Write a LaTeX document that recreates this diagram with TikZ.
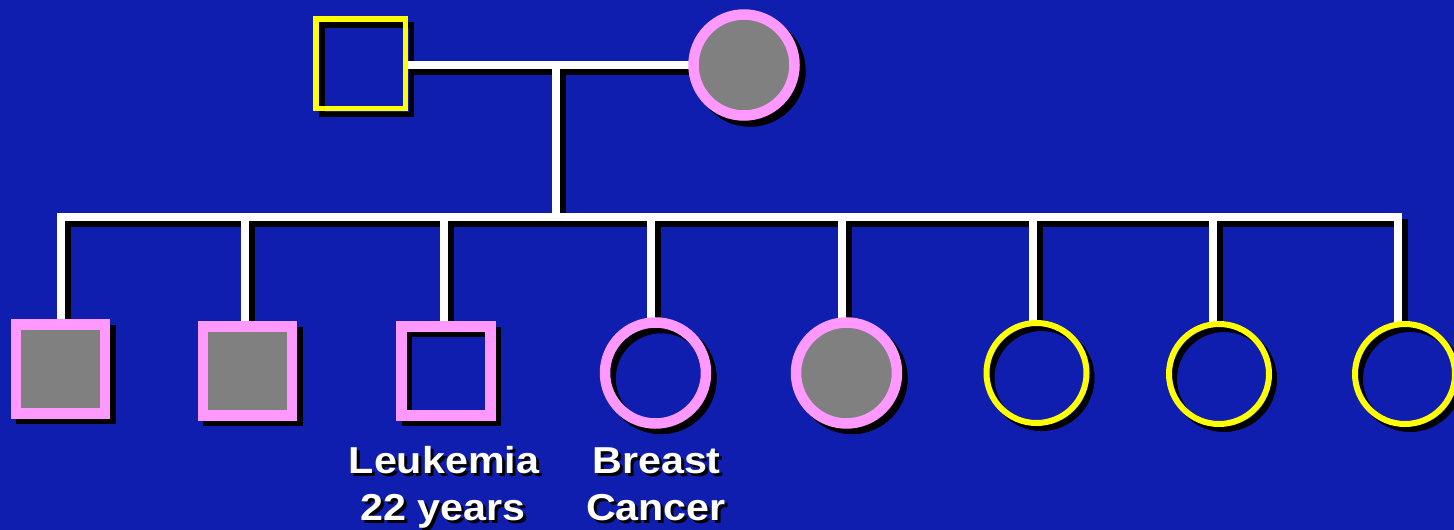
\documentclass[tikz,border=0pt]{standalone}
\usepackage{fontspec}
\setmainfont{Liberation Sans}
\definecolor{bgblue}{RGB}{15,30,175}
\definecolor{pinkc}{RGB}{255,153,255}
\definecolor{yelc}{RGB}{255,255,0}
\definecolor{grayc}{RGB}{128,128,128}
\tikzset{
  wl/.style={draw=white, line width=8pt, line join=miter},
  sl/.style={draw=black, line width=8pt, line join=miter},
  sqbase/.style={rectangle, inner sep=0pt, outer sep=0pt},
  circbase/.style={circle, inner sep=0pt, outer sep=0pt},
  pinksq/.style={sqbase, draw=pinkc, line width=10.5pt, minimum size=89pt},
  pinkcirc/.style={circbase, draw=pinkc, line width=10.5pt, minimum size=101pt},
  yelcirc/.style={circbase, draw=yelc, line width=6pt, minimum size=100pt},
  yelsq/.style={sqbase, draw=yelc, line width=5.5pt, minimum size=89.5pt},
  aff/.style={fill=grayc},
  shad/.style={draw=black},
  shadfill/.style={draw=black, fill=black},
  lbl/.style={text=white, font=\bfseries\fontsize{37.5}{45}\selectfont, inner sep=0pt, anchor=base},
  lbls/.style={text=black, font=\bfseries\fontsize{37.5}{45}\selectfont, inner sep=0pt, anchor=base},
}
\begin{document}
\begin{tikzpicture}[x=1pt, y=-1pt]
\useasboundingbox (0,0) rectangle (1454,530);
\fill[bgblue] (0,0) rectangle (1454,530);

% ---------- shadow shapes ----------
\node[yelsq, shad] (fS) at (366.5,69.5) {};
\node[pinkcirc, shadfill] (mS) at (750,71) {};
\node[pinksq, shadfill] (c1S) at (66,374.5) {};
\node[pinksq, shadfill] (c2S) at (253,376.5) {};
\node[pinksq, shad] (c3S) at (451.5,376.5) {};
\node[pinkcirc, shad] (c4S) at (661,378.5) {};
\node[pinkcirc, shadfill] (c5S) at (852,378.5) {};
\node[yelcirc, shad] (c6S) at (1041.5,378) {};
\node[yelcirc, shad] (c7S) at (1224,379) {};
\node[yelcirc, shad] (c8S) at (1410,379) {};

\coordinate (fP) at (360.5,63.5);
\coordinate (mP) at (744,65);

% coordinates for lines
\coordinate (mj) at (556,65);
\coordinate (sj) at (556,217);
\coordinate (d1) at (61,217);
\coordinate (d2) at (245,217);
\coordinate (d3) at (444,217);
\coordinate (d4) at (651,217);
\coordinate (d5) at (842,217);
\coordinate (d6) at (1033,217);
\coordinate (d7) at (1213,217);
\coordinate (d8) at (1398,217);
\coordinate (e1) at (61,320);
\coordinate (e2) at (245,322);
\coordinate (e3) at (444,322);
\coordinate (e4) at (651,320);
\coordinate (e5) at (842,320);
\coordinate (e6) at (1033,322);
\coordinate (e7) at (1213,322);
\coordinate (e8) at (1398,322);
\coordinate (fe) at (405,65);
\coordinate (mw) at (694,65);

% ---------- line shadows ----------
\draw[sl] ([shift={(6,6)}]fe) -- ([shift={(6,6)}]mw);
\draw[sl] ([shift={(6,6)}]mj) -- ([shift={(6,6)}]sj);
\draw[sl] ([shift={(6,6)}]e1) -- ([shift={(6,6)}]d1) -- ([shift={(6,6)}]d8) -- ([shift={(6,6)}]e8);
\foreach \i in {2,...,7} { \draw[sl] ([shift={(6,6)}]d\i) -- ([shift={(6,6)}]e\i); }

% ---------- white lines ----------
\draw[wl] (fe) -- (mw);
\draw[wl] (mj) -- (sj);
\draw[wl] (e1) -- (d1) -- (d8) -- (e8);
\foreach \i in {2,...,7} { \draw[wl] (d\i) -- (e\i); }

% ---------- symbols ----------
\node[yelsq] (f) at (fP) {};
\node[pinkcirc, aff] (m) at (mP) {};
\node[pinksq, aff] (c1) at (60.5,369) {};
\node[pinksq, aff] (c2) at (247.5,371) {};
\node[pinksq] (c3) at (446,371) {};
\node[pinkcirc] (c4) at (655.5,373) {};
\node[pinkcirc, aff] (c5) at (846.5,373) {};
\node[yelcirc] (c6) at (1036.5,373) {};
\node[yelcirc] (c7) at (1219,374) {};
\node[yelcirc] (c8) at (1405,374) {};

% ---------- labels ----------
\node[lbls] (t1s) at (447,476) {\scalebox{1.1}[1]{Leukemia}};
\node[lbls] (t2s) at (446,523) {\scalebox{1.1}[1]{22 years}};
\node[lbls] (t3s) at (659.5,476) {\scalebox{1.1}[1]{Breast}};
\node[lbls] (t4s) at (659,523) {\scalebox{1.1}[1]{Cancer}};
\node[lbl] (t1) at (444,473) {\scalebox{1.1}[1]{Leukemia}};
\node[lbl] (t2) at (443,520) {\scalebox{1.1}[1]{22 years}};
\node[lbl] (t3) at (656.5,473) {\scalebox{1.1}[1]{Breast}};
\node[lbl] (t4) at (656,520) {\scalebox{1.1}[1]{Cancer}};
\end{tikzpicture}
\end{document}
